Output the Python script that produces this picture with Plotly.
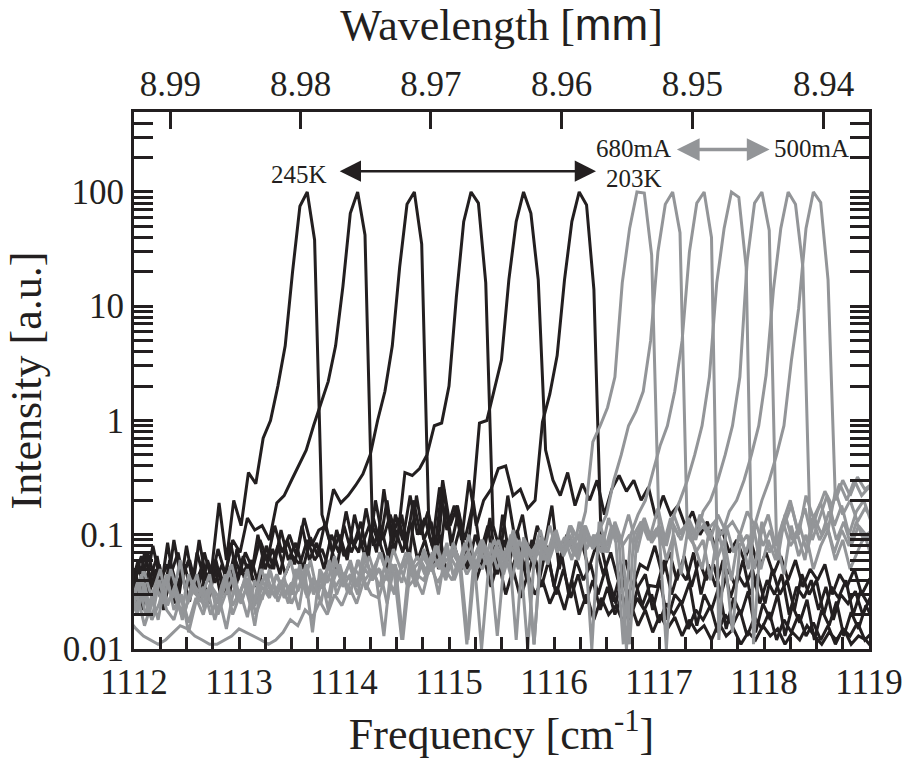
import numpy as np
import plotly.graph_objects as go

# ---------------- data ----------------
FREQ_STEP = 0.07  # cm-1 between spectral points
BLACK_PEAKS = [1113.65, 1114.13, 1114.67, 1115.21, 1115.71, 1116.24]   # 245K ... 203K
GRAY_PEAKS = [1116.79, 1117.13, 1117.43, 1117.69, 1117.98, 1118.23, 1118.47]  # 680mA ... 500mA

B1 = [0.035, 0.06, 0.028, 0.05, 0.03, 0.085, 0.032, 0.045, 0.026, 0.07,
      0.04, 0.05, 0.19, 0.06, 0.2, 0.12, 0.35, 0.28, 0.7, 1.0,
      2.0, 4.5, 20, 75, 100, 38, 0.15, 0.09, 0.05, 0.12,
      0.07, 0.1, 0.06, 0.14, 0.08, 0.05, 0.11, 0.07, 0.13, 0.06,
      0.09, 0.05, 0.1, 0.045, 0.08, 0.05, 0.07, 0.04, 0.065, 0.035,
      0.06, 0.03, 0.05, 0.028, 0.045, 0.03, 0.04, 0.025, 0.035, 0.022,
      0.04, 0.02, 0.03, 0.018, 0.028, 0.02, 0.024, 0.017, 0.025, 0.016,
      0.022, 0.014, 0.02, 0.015, 0.019, 0.013, 0.018, 0.014, 0.016, 0.012,
      0.017, 0.013, 0.015, 0.011, 0.014, 0.012, 0.016, 0.013, 0.015, 0.011,
      0.014, 0.012, 0.016, 0.013, 0.011, 0.014, 0.012, 0.015, 0.011, 0.013, 0.012, 0.01]
B2 = [0.045, 0.025, 0.07, 0.035, 0.055, 0.03, 0.09, 0.04, 0.06, 0.03,
      0.05, 0.038, 0.075, 0.045, 0.09, 0.07, 0.14, 0.11, 0.12, 0.09,
      0.19, 0.22, 0.3, 0.4, 0.55, 0.9, 1.4, 2.2, 4.5, 15,
      65, 100, 42, 0.12, 0.08, 0.2, 0.07, 0.15, 0.06, 0.22,
      0.09, 0.13, 0.05, 0.18, 0.07, 0.12, 0.05, 0.1, 0.06, 0.14,
      0.045, 0.09, 0.05, 0.08, 0.04, 0.07, 0.035, 0.06, 0.03, 0.05,
      0.028, 0.045, 0.025, 0.04, 0.022, 0.035, 0.02, 0.03, 0.018, 0.028,
      0.022, 0.03, 0.017, 0.025, 0.02, 0.026, 0.015, 0.022, 0.018, 0.024,
      0.014, 0.02, 0.016, 0.022, 0.013, 0.019, 0.015, 0.021, 0.012, 0.018,
      0.014, 0.02, 0.013, 0.017, 0.012, 0.016, 0.011, 0.015, 0.013, 0.017, 0.012, 0.014]
B3 = [0.03, 0.05, 0.022, 0.04, 0.065, 0.028, 0.045, 0.03, 0.08, 0.035,
      0.05, 0.025, 0.06, 0.032, 0.085, 0.04, 0.07, 0.05, 0.09, 0.06,
      0.12, 0.07, 0.1, 0.065, 0.14, 0.08, 0.11, 0.12, 0.25, 0.19,
      0.22, 0.27, 0.34, 0.5, 1.0, 1.8, 4.5, 22, 78, 100,
      35, 0.1, 0.06, 0.25, 0.08, 0.16, 0.05, 0.2, 0.07, 0.12,
      0.045, 0.15, 0.06, 0.11, 0.05, 0.09, 0.04, 0.08, 0.035, 0.07,
      0.03, 0.06, 0.04, 0.055, 0.03, 0.05, 0.026, 0.045, 0.03, 0.04,
      0.024, 0.036, 0.035, 0.06, 0.03, 0.05, 0.04, 0.07, 0.03, 0.055,
      0.035, 0.06, 0.028, 0.045, 0.035, 0.05, 0.025, 0.04, 0.03, 0.045,
      0.02, 0.035, 0.028, 0.04, 0.022, 0.035, 0.018, 0.03, 0.025, 0.032, 0.02, 0.028]
B4 = [0.05, 0.03, 0.07, 0.04, 0.025, 0.06, 0.035, 0.055, 0.03, 0.09,
      0.04, 0.06, 0.028, 0.05, 0.035, 0.065, 0.04, 0.1, 0.05, 0.075,
      0.045, 0.09, 0.055, 0.12, 0.06, 0.085, 0.05, 0.1, 0.07, 0.16,
      0.08, 0.13, 0.06, 0.2, 0.09, 0.15, 0.09, 0.35, 0.33, 0.38,
      0.5, 0.9, 0.95, 2.0, 12, 55, 100, 80, 16, 0.12,
      0.07, 0.22, 0.09, 0.15, 0.06, 0.12, 0.08, 0.18, 0.05, 0.1,
      0.07, 0.09, 0.05, 0.08, 0.045, 0.07, 0.04, 0.06, 0.035, 0.055,
      0.05, 0.08, 0.045, 0.07, 0.04, 0.065, 0.035, 0.06, 0.04, 0.055,
      0.03, 0.05, 0.035, 0.06, 0.03, 0.045, 0.025, 0.05, 0.03, 0.04,
      0.022, 0.045, 0.03, 0.04, 0.02, 0.035, 0.028, 0.04, 0.02, 0.032, 0.025, 0.03]
B5 = [0.04, 0.065, 0.03, 0.05, 0.022, 0.045, 0.07, 0.033, 0.05, 0.028,
      0.06, 0.038, 0.055, 0.03, 0.075, 0.042, 0.06, 0.035, 0.08, 0.05,
      0.11, 0.06, 0.085, 0.05, 0.095, 0.065, 0.13, 0.07, 0.1, 0.06,
      0.15, 0.08, 0.12, 0.07, 0.25, 0.09, 0.14, 0.075, 0.2, 0.1,
      0.16, 0.08, 0.3, 0.12, 0.18, 0.09, 0.17, 0.95, 1.0, 1.8,
      3.4, 17, 55, 100, 65, 17, 0.55, 0.3, 0.22, 0.35,
      0.18, 0.28, 0.2, 0.3, 0.15, 0.25, 0.33, 0.24, 0.3, 0.2,
      0.26, 0.14, 0.22, 0.15, 0.18, 0.12, 0.16, 0.1, 0.13, 0.08,
      0.11, 0.07, 0.09, 0.06, 0.085, 0.05, 0.07, 0.045, 0.065, 0.04,
      0.06, 0.035, 0.05, 0.04, 0.055, 0.03, 0.045, 0.035, 0.05, 0.03, 0.04, 0.035]
B6 = [0.028, 0.05, 0.035, 0.08, 0.04, 0.055, 0.025, 0.045, 0.06, 0.032,
      0.07, 0.04, 0.05, 0.03, 0.065, 0.045, 0.055, 0.035, 0.07, 0.05,
      0.08, 0.045, 0.065, 0.055, 0.09, 0.06, 0.075, 0.05, 0.11, 0.065,
      0.09, 0.07, 0.17, 0.08, 0.12, 0.065, 0.15, 0.09, 0.22, 0.1,
      0.14, 0.08, 0.26, 0.11, 0.18, 0.09, 0.3, 0.12, 0.2, 0.25,
      0.38, 0.4, 0.22, 0.25, 0.17, 0.2, 0.97, 1.7, 3.7, 17,
      55, 100, 77, 14, 0.08, 0.04, 0.025, 0.05, 0.02, 0.035,
      0.045, 0.022, 0.04, 0.018, 0.03, 0.025, 0.038, 0.016, 0.03, 0.022,
      0.035, 0.015, 0.028, 0.02, 0.032, 0.014, 0.025, 0.018, 0.03, 0.013,
      0.024, 0.017, 0.027, 0.012, 0.022, 0.016, 0.026, 0.013, 0.021, 0.015, 0.024, 0.018]

G1 = [0.03, 0.02, 0.038, 0.018, 0.025, 0.045, 0.022, 0.03, 0.017, 0.028,
      0.02, 0.035, 0.025, 0.042, 0.02, 0.03, 0.05, 0.024, 0.035, 0.028,
      0.045, 0.03, 0.038, 0.022, 0.055, 0.033, 0.04, 0.028, 0.06, 0.035,
      0.045, 0.03, 0.065, 0.04, 0.05, 0.025, 0.055, 0.038, 0.07, 0.045,
      0.04, 0.06, 0.03, 0.075, 0.045, 0.055, 0.012, 0.06, 0.05, 0.085,
      0.05, 0.07, 0.04, 0.09, 0.06, 0.011, 0.08, 0.065, 0.1, 0.07,
      0.12, 0.09, 0.16, 0.65, 0.9, 1.3, 2.4, 16, 48, 100,
      98, 28, 0.12, 0.06, 0.1, 0.045, 0.12, 0.07, 0.09, 0.04,
      0.11, 0.06, 0.014, 0.08, 0.1, 0.05, 0.13, 0.07, 0.09, 0.045,
      0.12, 0.065, 0.1, 0.05, 0.08, 0.11, 0.06, 0.09, 0.05, 0.07, 0.1, 0.06]
G2 = [0.018, 0.015, 0.013, 0.012, 0.011, 0.012, 0.014, 0.016, 0.015, 0.013,
      0.012, 0.011, 0.011, 0.012, 0.013, 0.015, 0.014, 0.013, 0.012, 0.011,
      0.012, 0.014, 0.018, 0.016, 0.022, 0.019, 0.026, 0.02, 0.03, 0.024,
      0.035, 0.025, 0.04, 0.03, 0.028, 0.045, 0.032, 0.05, 0.035, 0.042,
      0.03, 0.055, 0.038, 0.05, 0.04, 0.065, 0.045, 0.06, 0.01, 0.055,
      0.07, 0.045, 0.08, 0.05, 0.075, 0.06, 0.09, 0.055, 0.085, 0.07,
      0.1, 0.065, 0.12, 0.08, 0.11, 0.15, 0.3, 0.5, 0.9, 1.2,
      1.8, 5, 30, 78, 100, 44, 0.1, 0.08, 0.05, 0.11,
      0.06, 0.09, 0.04, 0.1, 0.07, 0.12, 0.05, 0.09, 0.06, 0.13,
      0.08, 0.1, 0.06, 0.14, 0.09, 0.12, 0.07, 0.11, 0.08, 0.13, 0.09, 0.1]
G3 = [0.025, 0.04, 0.02, 0.032, 0.05, 0.024, 0.036, 0.018, 0.03, 0.045,
      0.022, 0.035, 0.028, 0.015, 0.033, 0.025, 0.04, 0.02, 0.03, 0.048,
      0.026, 0.038, 0.03, 0.055, 0.028, 0.04, 0.034, 0.06, 0.03, 0.045,
      0.04, 0.06, 0.033, 0.05, 0.07, 0.04, 0.055, 0.012, 0.05, 0.065,
      0.045, 0.07, 0.05, 0.085, 0.04, 0.06, 0.1, 0.05, 0.075, 0.06,
      0.09, 0.055, 0.11, 0.065, 0.01, 0.08, 0.06, 0.12, 0.07, 0.095,
      0.06, 0.13, 0.075, 0.1, 0.07, 0.14, 0.085, 0.011, 0.1, 0.15,
      0.2, 0.35, 0.6, 0.9, 1.8, 5, 30, 80, 100, 40,
      0.012, 0.12, 0.07, 0.1, 0.05, 0.13, 0.08, 0.11, 0.06, 0.15,
      0.09, 0.12, 0.07, 0.14, 0.1, 0.16, 0.09, 0.13, 0.08, 0.12, 0.1, 0.11]
G4 = [0.035, 0.022, 0.05, 0.03, 0.018, 0.04, 0.028, 0.06, 0.025, 0.035,
      0.03, 0.045, 0.02, 0.038, 0.055, 0.03, 0.042, 0.025, 0.05, 0.035,
      0.028, 0.04, 0.06, 0.032, 0.045, 0.014, 0.05, 0.038, 0.065, 0.04,
      0.055, 0.035, 0.07, 0.045, 0.05, 0.04, 0.075, 0.05, 0.06, 0.035,
      0.065, 0.05, 0.08, 0.045, 0.07, 0.055, 0.011, 0.065, 0.09, 0.05,
      0.075, 0.06, 0.1, 0.055, 0.085, 0.065, 0.11, 0.06, 0.09, 0.07,
      0.12, 0.075, 0.1, 0.01, 0.13, 0.08, 0.11, 0.09, 0.15, 0.085,
      0.12, 0.1, 0.17, 0.09, 0.14, 0.2, 0.3, 0.5, 0.9, 2.4,
      16, 48, 100, 90, 22, 0.011, 0.1, 0.15, 0.08, 0.13,
      0.2, 0.11, 0.17, 0.09, 0.14, 0.22, 0.12, 0.18, 0.1, 0.16, 0.2, 0.13]
G5 = [0.02, 0.03, 0.016, 0.025, 0.04, 0.022, 0.018, 0.03, 0.014, 0.026,
      0.035, 0.02, 0.028, 0.045, 0.024, 0.032, 0.019, 0.04, 0.027, 0.05,
      0.03, 0.042, 0.025, 0.035, 0.055, 0.03, 0.045, 0.022, 0.05, 0.038,
      0.06, 0.035, 0.05, 0.04, 0.07, 0.045, 0.03, 0.055, 0.065, 0.04,
      0.075, 0.05, 0.06, 0.045, 0.085, 0.055, 0.07, 0.05, 0.09, 0.06,
      0.013, 0.065, 0.1, 0.06, 0.08, 0.055, 0.095, 0.07, 0.11, 0.065,
      0.09, 0.075, 0.12, 0.08, 0.1, 0.07, 0.13, 0.085, 0.011, 0.1,
      0.14, 0.09, 0.12, 0.08, 0.15, 0.1, 0.13, 0.09, 0.16, 0.2,
      0.3, 0.5, 0.9, 2.4, 25, 80, 100, 46, 0.08, 0.12,
      0.18, 0.1, 0.22, 0.14, 0.19, 0.11, 0.24, 0.15, 0.2, 0.13, 0.17, 0.14]
G6 = [0.028, 0.045, 0.02, 0.035, 0.025, 0.05, 0.03, 0.022, 0.04, 0.026,
      0.033, 0.018, 0.03, 0.048, 0.028, 0.038, 0.022, 0.035, 0.045, 0.03,
      0.04, 0.025, 0.05, 0.035, 0.06, 0.03, 0.045, 0.038, 0.055, 0.032,
      0.05, 0.042, 0.065, 0.04, 0.013, 0.055, 0.045, 0.07, 0.05, 0.06,
      0.045, 0.08, 0.055, 0.065, 0.05, 0.085, 0.06, 0.075, 0.055, 0.09,
      0.065, 0.08, 0.012, 0.095, 0.07, 0.085, 0.06, 0.1, 0.075, 0.09,
      0.065, 0.11, 0.08, 0.1, 0.07, 0.12, 0.085, 0.01, 0.1, 0.13,
      0.09, 0.11, 0.08, 0.14, 0.1, 0.12, 0.09, 0.15, 0.11, 0.13,
      0.1, 0.16, 0.2, 0.3, 0.5, 0.9, 2.5, 14, 48, 100,
      78, 22, 0.1, 0.16, 0.24, 0.18, 0.28, 0.2, 0.3, 0.22, 0.26, 0.2]
G7 = [0.022, 0.035, 0.028, 0.018, 0.04, 0.025, 0.032, 0.02, 0.045, 0.03,
      0.025, 0.038, 0.02, 0.03, 0.042, 0.026, 0.035, 0.016, 0.04, 0.03,
      0.045, 0.028, 0.036, 0.05, 0.03, 0.042, 0.025, 0.055, 0.035, 0.045,
      0.03, 0.06, 0.04, 0.05, 0.035, 0.065, 0.045, 0.012, 0.055, 0.04,
      0.07, 0.048, 0.06, 0.04, 0.075, 0.05, 0.065, 0.045, 0.08, 0.055,
      0.07, 0.05, 0.09, 0.06, 0.075, 0.011, 0.085, 0.065, 0.1, 0.07,
      0.09, 0.06, 0.11, 0.075, 0.095, 0.07, 0.12, 0.08, 0.1, 0.07,
      0.13, 0.085, 0.11, 0.01, 0.12, 0.09, 0.14, 0.1, 0.12, 0.09,
      0.15, 0.11, 0.13, 0.1, 0.16, 0.12, 0.2, 0.3, 0.5, 0.9,
      3.3, 9.6, 48, 100, 81, 17, 0.2, 0.3, 0.22, 0.32, 0.25, 0.28]

BLACK_SERIES = [B1, B2, B3, B4, B5, B6]
GRAY_SERIES = [G1, G2, G3, G4, G5, G6, G7]

X_TICKS = [1112, 1113, 1114, 1115, 1116, 1117, 1118, 1119]
Y_TICKS = [0.01, 0.1, 1, 10, 100]
Y_TICK_LABELS = ["0.01", "0.1", "1", "10", "100"]
WL_TICKS = [8.99, 8.98, 8.97, 8.96, 8.95, 8.94]  # wavelength, micrometres
WL_LABELS = ["8.99", "8.98", "8.97", "8.96", "8.95", "8.94"]

# ---------------- styling ----------------
INK = "#231f20"
GRAY = "#939598"
FONT = "Liberation Serif"
LW = 3.0

fig = go.Figure()


def freq_grid(vals, peak):
    idx = np.arange(len(vals))
    return peak + FREQ_STEP * (idx - int(np.argmax(vals)))


for vals, pk in zip(BLACK_SERIES, BLACK_PEAKS):
    fig.add_trace(go.Scatter(x=freq_grid(vals, pk), y=vals, mode="lines",
                             line=dict(color=INK, width=LW), showlegend=False,
                             hoverinfo="skip", xaxis="x", yaxis="y"))
for vals, pk in zip(GRAY_SERIES, GRAY_PEAKS):
    fig.add_trace(go.Scatter(x=freq_grid(vals, pk), y=vals, mode="lines",
                             line=dict(color=GRAY, width=LW), showlegend=False,
                             hoverinfo="skip", xaxis="x2", yaxis="y"))

minor_y = [m * 10.0 ** e for e in range(-2, 3) for m in range(2, 10)]
minor_y = [v for v in minor_y if v < 500]

fig.update_layout(
    width=915, height=763,
    margin=dict(l=134, r=40, t=112, b=111),
    paper_bgcolor="white", plot_bgcolor="white",
    font=dict(family=FONT, size=35, color=INK),
    showlegend=False,
    xaxis=dict(range=[1112, 1119], tickmode="array", tickvals=X_TICKS,
               ticks="inside", ticklen=12,
               tickwidth=2.5, tickcolor=INK, showline=True, linewidth=3,
               linecolor=INK, mirror=True, showgrid=False, zeroline=False,
               minor=dict(dtick=0.25, ticks="inside", ticklen=12, tickwidth=2.5,
                          tickcolor=INK, showgrid=False),
               title=dict(text="Frequency [cm<sup>-1</sup>]", font=dict(size=44),
                          standoff=18)),
    # top axis: wavelength [um] = 10000 / frequency [cm-1]
    xaxis2=dict(range=[1112, 1119], overlaying="x", side="top", anchor="y",
                tickmode="array",
                tickvals=[1.0e4 / w for w in WL_TICKS],
                ticktext=WL_LABELS, showticklabels=True,
                ticks="inside", ticklen=17, tickwidth=2.5, tickcolor=INK,
                showline=False, showgrid=False, zeroline=False,
                ticklabelstandoff=8,
                title=dict(text='Wavelength [<span style="font-family:Liberation Sans">mm</span>]',
                           font=dict(size=44), standoff=14)),
    yaxis=dict(type="log", range=[-2, 2.7], tickmode="array", tickvals=Y_TICKS,
               ticktext=Y_TICK_LABELS,
               ticks="inside", ticklen=19, tickwidth=2.5, tickcolor=INK,
               showline=True, linewidth=3, linecolor=INK, mirror="allticks",
               showgrid=False, zeroline=False,
               minor=dict(tickvals=minor_y, ticks="inside", ticklen=11,
                          tickwidth=2.5, tickcolor=INK, showgrid=False),
               title=dict(text="Intensity [a.u.]", font=dict(size=44), standoff=8)),
)

# annotations: temperature and current ranges
fig.add_annotation(x=1116.40, y=np.log10(152), ax=1113.945, ay=np.log10(152),
                   xref="x", yref="y", axref="x", ayref="y", text="",
                   showarrow=True, arrowside="end+start", arrowhead=2,
                   startarrowhead=2, arrowsize=1.7, startarrowsize=1.7,
                   arrowwidth=2.5, arrowcolor=INK)
fig.add_annotation(x=1118.053, y=np.log10(235), ax=1117.156, ay=np.log10(235),
                   xref="x", yref="y", axref="x", ayref="y", text="",
                   showarrow=True, arrowside="end+start", arrowhead=2,
                   startarrowhead=2, arrowsize=1.3, startarrowsize=1.3,
                   arrowwidth=3.5, arrowcolor=GRAY)
for txt, xv, yv in [("245K", 1113.57, 142), ("203K", 1116.76, 132),
                    ("680mA", 1116.76, 238), ("500mA", 1118.45, 238)]:
    fig.add_annotation(x=xv, y=np.log10(yv), xref="x", yref="y", text=txt,
                       showarrow=False, font=dict(size=25, color=INK))

fig.write_html("out.html")
